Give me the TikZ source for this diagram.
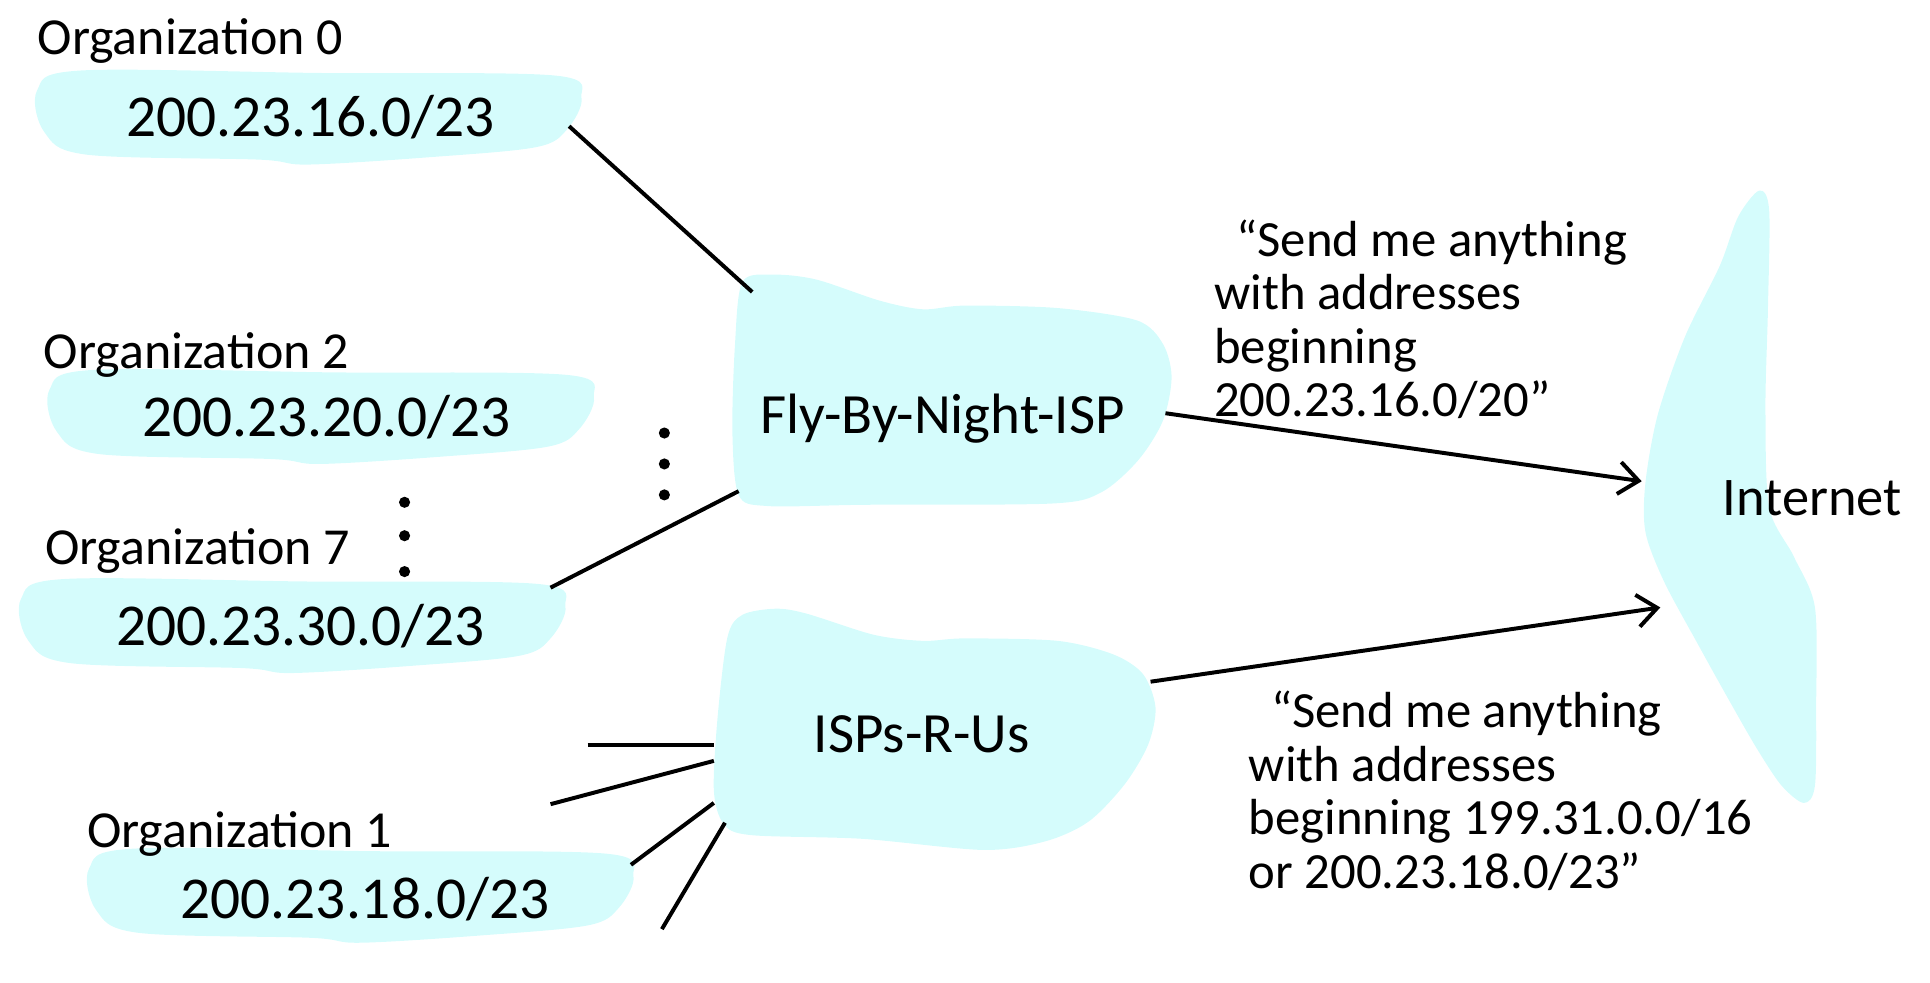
\documentclass[tikz,border=0pt]{standalone}
\usepackage{fontspec}
\setmainfont{Carlito}
\usetikzlibrary{arrows.meta}
\definecolor{cloudc}{RGB}{213,252,252}
\tikzset{
  orgblob/.pic={\fill[cloudc] plot[smooth cycle, tension=0.55] coordinates {(0,16) (35,0) (230,2) (418,4) (440,22) (428,48) (403,62) (318,70) (219,76) (179,72) (40,68) (6,50)};}
}
\begin{document}
\begin{tikzpicture}[x=0.5pt,y=-0.5pt,
  linkline/.style={line width=1.6pt},
  advline/.style={line width=1.6pt, -{Straight Barb[length=8pt,width=13pt,line width=1.6pt]}},
  orglabel/.style={anchor=base west, inner sep=0pt, font=\fontsize{21}{25}\selectfont},
  iptext/.style={anchor=base, inner sep=0pt, font=\fontsize{24}{28}\selectfont},
  ispname/.style={anchor=base, inner sep=0pt, font=\fontsize{23}{27}\selectfont},
  notetext/.style={anchor=base west, inner sep=0pt, align=left, font=\fontsize{20.5}{21.65}\selectfont},
  vdot/.style={fill=black, circle, inner sep=0pt, minimum size=4.5pt}
]
\useasboundingbox (0,0) rectangle (1560,794);
% clouds
\pic at (30,57) {orgblob};
\pic at (40,299) {orgblob};
\pic at (17,468) {orgblob};
\pic at (72,686) {orgblob};
\fill[cloudc] plot[smooth cycle, tension=0.5] coordinates {(600,228) (625,222) (660,226) (711,243) (746,250) (780,247) (855,249) (919,259) (940,278) (947,305) (940,340) (920,372) (890,398) (850,407) (700,408) (620,409) (597,400) (592,350) (594,280)};
\fill[cloudc] plot[smooth cycle, tension=0.5] coordinates {(600,497) (627,492) (652,496) (706,513) (746,518) (780,516) (855,518) (900,529) (924,545) (934,572) (928,602) (909,634) (880,664) (845,680) (795,687) (697,678) (607,675) (585,666) (577,639) (580,580) (588,515)};
\fill[cloudc] plot[smooth cycle, tension=0.5] coordinates {(1422,154) (1430,170) (1429,250) (1427,330) (1430,410) (1450,450) (1467,491) (1468,570) (1467,635) (1458,649) (1440,635) (1420,605) (1397,565) (1372,520) (1345,470) (1330,430) (1330,390) (1340,335) (1362,272) (1390,215) (1405,175)};
% labels
\node[orglabel] (l0) at (30,44) {Organization 0};
\node[orglabel] (l2) at (35,298) {Organization 2};
\node[orglabel] (l7) at (36,456) {Organization 7};
\node[orglabel] (l1) at (70,685) {Organization 1};
\node[iptext] (p0) at (251,110) {200.23.16.0/23};
\node[iptext] (p2) at (264,353) {200.23.20.0/23};
\node[iptext] (p7) at (243,522) {200.23.30.0/23};
\node[iptext] (p1) at (295,742) {200.23.18.0/23};
\node[ispname] (fly) at (762,350) {Fly-By-Night-ISP};
\node[ispname] (isp) at (745,608) {ISPs-R-Us};
\node[ispname, anchor=base west, font=\fontsize{22}{26}\selectfont] (inet) at (1392,417) {Internet};
\node[notetext] (n1) at (981,337) {\hspace*{9pt}“Send me anything\\with addresses\\beginning\\200.23.16.0/20”};
\node[notetext] (n2) at (1009,718) {\hspace*{9pt}“Send me anything\\with addresses\\beginning 199.31.0.0/16\\or 200.23.18.0/23”};
% dots
\node[vdot] (a1) at (537,350) {};
\node[vdot] (a2) at (537,375) {};
\node[vdot] (a3) at (537,400) {};
\node[vdot] (b1) at (327,406) {};
\node[vdot] (b2) at (327,433) {};
\node[vdot] (b3) at (327,462) {};
% connector endpoints
\coordinate (o0r) at (460,102);
\coordinate (flyA) at (608,236);
\coordinate (o7r) at (445,475);
\coordinate (flyB) at (597,397);
\coordinate (e1) at (475,602);
\coordinate (ispA) at (577,602);
\coordinate (e2) at (445,650);
\coordinate (ispB) at (577,615);
\coordinate (o1r) at (510,699);
\coordinate (ispC) at (577,649);
\coordinate (e4) at (535,751);
\coordinate (ispD) at (586,665);
\coordinate (flyR) at (942,334);
\coordinate (inA) at (1327,389);
\coordinate (ispR) at (930,551);
\coordinate (inB) at (1342,491);
% connectors
\draw[linkline] (o0r) -- (flyA);
\draw[linkline] (o7r) -- (flyB);
\draw[linkline] (e1) -- (ispA);
\draw[linkline] (e2) -- (ispB);
\draw[linkline] (o1r) -- (ispC);
\draw[linkline] (e4) -- (ispD);
\draw[advline] (flyR) -- (inA);
\draw[advline] (ispR) -- (inB);
\end{tikzpicture}
\end{document}
